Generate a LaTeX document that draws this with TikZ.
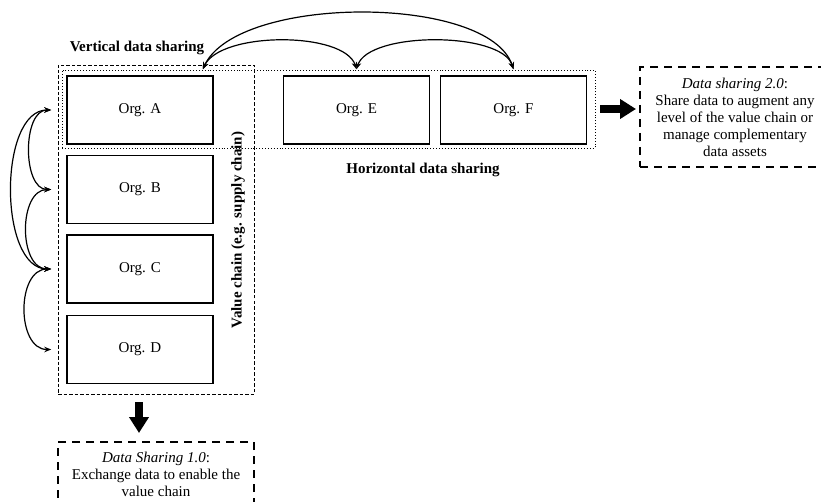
\documentclass[tikz,border=0pt]{standalone}
\usepackage{fontspec}
\setmainfont{Liberation Serif}
\usetikzlibrary{arrows.meta}
\begin{document}
\begin{tikzpicture}[x=1pt,y=-1pt,
  font=\fontsize{15}{17}\selectfont,
  org/.style={draw, line width=1.5pt, minimum width=146pt, minimum height=68pt, inner sep=0pt},
  chainbox/.style={draw, line width=0.9pt, dash pattern=on 3.5pt off 2pt, inner sep=0pt},
  groupbox/.style={draw, line width=0.9pt, dotted, inner sep=0pt},
  notebox/.style={draw, line width=2pt, dash pattern=on 8pt off 6pt, align=center, inner sep=0pt},
  lbl/.style={font=\fontsize{15}{17}\selectfont\bfseries},
  link/.style={line width=1.2pt, {Stealth[length=7pt,width=5.5pt]}-{Stealth[length=7pt,width=5.5pt]}},
  bigarrow/.style={line width=8pt, -{Triangle[length=16pt,width=19pt]}}]
\clip (0,0) rectangle (821,502);
\useasboundingbox (0,0) rectangle (821,502);

% value chain and horizontal grouping frames
\node[chainbox, minimum width=196pt, minimum height=329pt] (vc) at (156,229.5) {};
\node[groupbox, minimum width=533pt, minimum height=78pt] (hz) at (328.5,109) {};

% organisations
\node[org] (a) at (140,110) {Org. A};
\node[org] (b) at (140,189.5) {Org. B};
\node[org] (c) at (140,269) {Org. C};
\node[org] (d) at (140,349.5) {Org. D};
\node[org] (e) at (356.5,110) {Org. E};
\node[org] (f) at (513.5,110) {Org. F};

% labels
\node[lbl] (vlab) at (137,48) {Vertical data sharing};
\node[lbl] (hlab) at (423,170) {Horizontal data sharing};
\node[lbl, rotate=90] (clab) at (238,230) {Value chain (e.g. supply chain)};

% vertical links along the chain
\coordinate (pa) at ([xshift=-15pt]a.west);
\coordinate (pb) at ([xshift=-15pt]b.west);
\coordinate (pc) at ([xshift=-15pt]c.west);
\coordinate (pd) at ([xshift=-15pt]d.west);
\draw[link] (pa) .. controls ([xshift=-29pt]pa) and ([xshift=-29pt]pb) .. (pb);
\draw[link] (pb) .. controls ([xshift=-33pt]pb) and ([xshift=-33pt]pc) .. (pc);
\draw[link] (pa) .. controls ([xshift=-53pt]pa) and ([xshift=-53pt]pc) .. (pc);
\draw[link] (pc) .. controls ([xshift=-35pt]pc) and ([xshift=-35pt]pd) .. (pd);

% horizontal links across the top
\coordinate (ta) at ([xshift=-11pt,yshift=6pt]a.north east);
\coordinate (te) at ([yshift=6pt]e.north);
\coordinate (tf) at ([yshift=6pt]f.north);
\draw[link] (ta) .. controls ([xshift=18pt,yshift=38pt]ta) and ([xshift=-12pt,yshift=38pt]te) .. (te);
\draw[link] (te) .. controls ([xshift=12pt,yshift=38pt]te) and ([xshift=-12pt,yshift=38pt]tf) .. (tf);
\draw[link] (ta) .. controls ([xshift=35pt,yshift=75pt]ta) and ([xshift=-25pt,yshift=75pt]tf) .. (tf);

% outcome notes
\node[notebox, minimum width=196pt, minimum height=64pt] (ds1) at (156,474)
  {\textit{Data Sharing 1.0}:\\Exchange data to enable the\\value chain};
\node[notebox, minimum width=190pt, minimum height=100pt] (ds2) at (735,117)
  {\textit{Data sharing 2.0}:\\Share data to augment any\\level of the value chain or\\manage complementary\\data assets};

\draw[bigarrow] ([yshift=-8pt]vc.south -| 139,0) -- ([yshift=8pt]ds1.north -| 139,0);
\draw[bigarrow] ([xshift=5pt]hz.east) -- ([xshift=-3pt]ds2.west |- hz.east);
\end{tikzpicture}
\end{document}
